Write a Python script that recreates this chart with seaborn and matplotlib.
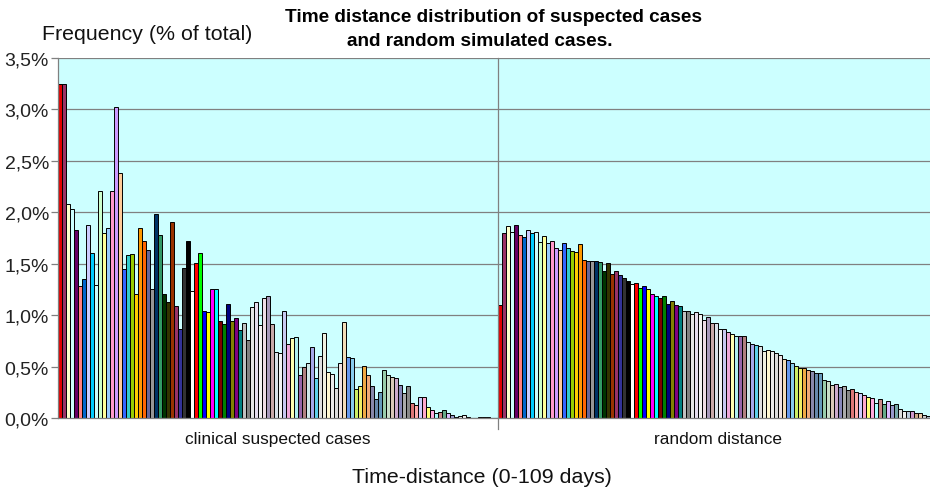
import matplotlib
matplotlib.use("Agg")
import matplotlib.pyplot as plt
import seaborn as sns
import pandas as pd

# ---- data ----
clinical = [3.25, 3.25, 2.08, 2.03, 1.83, 1.28, 1.35, 1.88, 1.60, 1.29,
            2.21, 1.80, 1.85, 2.21, 3.02, 2.38, 1.45, 1.58, 1.59, 1.21,
            1.85, 1.72, 1.63, 1.25, 1.98, 1.78, 1.21, 1.13, 1.91, 1.09,
            0.87, 1.46, 1.72, 1.23, 1.51, 1.60, 1.04, 1.03, 1.25, 1.25,
            0.94, 0.91, 1.11, 0.94, 0.97, 0.86, 0.92, 0.76, 1.08, 1.13,
            0.90, 1.17, 1.19, 0.91, 0.64, 0.63, 1.04, 0.72, 0.78, 0.79,
            0.42, 0.50, 0.53, 0.69, 0.39, 0.60, 0.83, 0.45, 0.43, 0.29,
            0.53, 0.93, 0.59, 0.58, 0.28, 0.31, 0.51, 0.42, 0.31, 0.18,
            0.25, 0.47, 0.42, 0.40, 0.39, 0.32, 0.24, 0.31, 0.15, 0.13,
            0.20, 0.20, 0.11, 0.08, 0.05, 0.06, 0.08, 0.05, 0.03, 0.01,
            0.02, 0.03, 0.01, 0.0, 0.0, 0.005, 0.01, 0.01, 0.003, 0.0]

random_dist = [1.10, 1.80, 1.87, 1.81, 1.88, 1.78, 1.76, 1.83, 1.80, 1.81,
               1.71, 1.77, 1.70, 1.72, 1.65, 1.63, 1.70, 1.65, 1.62, 1.61,
               1.69, 1.54, 1.53, 1.53, 1.525, 1.52, 1.43, 1.51, 1.40, 1.43,
               1.39, 1.36, 1.33, 1.30, 1.31, 1.26, 1.28, 1.25, 1.21, 1.19,
               1.17, 1.19, 1.11, 1.14, 1.10, 1.09, 1.04, 1.04, 1.01, 1.03,
               1.01, 0.95, 0.98, 0.92, 0.92, 0.87, 0.87, 0.84, 0.82, 0.80,
               0.80, 0.80, 0.74, 0.72, 0.71, 0.70, 0.65, 0.66, 0.65, 0.63,
               0.61, 0.57, 0.56, 0.53, 0.51, 0.49, 0.49, 0.47, 0.46, 0.44,
               0.44, 0.37, 0.36, 0.32, 0.33, 0.30, 0.31, 0.27, 0.28, 0.25,
               0.24, 0.22, 0.20, 0.19, 0.15, 0.18, 0.14, 0.17, 0.13, 0.14,
               0.09, 0.07, 0.07, 0.07, 0.05, 0.045, 0.03, 0.015, 0.01, 0.005]

group_labels = ["clinical suspected cases", "random distance"]
yticks = [0.0, 0.5, 1.0, 1.5, 2.0, 2.5, 3.0, 3.5]
ytick_labels = ["0,0%", "0,5%", "1,0%", "1,5%", "2,0%", "2,5%", "3,0%", "3,5%"]

# Excel-like "vary colors by point" palette (110 colours, reused for both groups)
bar_colors = [
    "#E00000", "#993366", "#FFFFCC", "#CCFFFF", "#660066", "#FF8080", "#0066CC", "#CCCCFF",
    "#00CCFF", "#CCFFFF", "#CCFFCC", "#FFFF99", "#99CCFF", "#FF99CC", "#CC99FF", "#FFCC99",
    "#3366FF", "#33CCCC", "#99CC00", "#FFCC00", "#FF9900", "#FF6600", "#666699", "#969696",
    "#003366", "#339966", "#003300", "#333300", "#993300", "#993366", "#333399", "#333333",
    "#000000", "#FFFFFF", "#FF0000", "#00FF00", "#0000FF", "#FFFF00", "#FF00FF", "#00FFFF",
    "#800000", "#008000", "#000080", "#808000", "#800080", "#008080", "#C0C0C0", "#808080",
    "#E6E6E6", "#E6DDEE", "#F4F4F4", "#EEDDE6", "#A899BB", "#C8A8A8", "#D8E0E8", "#F2F2F2",
    "#C8C8F0", "#F0A8D8", "#FFFFB0", "#B0F0F0", "#9966AA", "#B08080", "#D0E8E8", "#A8A8E8",
    "#60D0E8", "#E0E0E0", "#F0F0E0", "#FFF8D0", "#ECECEC", "#DCDCDC", "#F0E4E4", "#F2DDB8",
    "#6699EE", "#88CCEE", "#CCEE66", "#EEEE66", "#EEAA44", "#F0AA77", "#8888AA", "#6688AA",
    "#6699BB", "#99CCAA", "#C8DDC8", "#D8C8B8", "#CCAACC", "#8888BB", "#AAAAAA", "#888888",
    "#DD7777", "#FFAAAA", "#CCCCFF", "#FFAACC", "#FFFF77", "#FFAADD", "#AAFFFF", "#CC8888",
    "#66AA88", "#DDBBFF", "#9999CC", "#77AAAA", "#DDDDDD", "#EEEEEE", "#BBCCDD", "#CC99CC",
    "#CCAA88", "#EECCAA", "#CCCCCC", "#AABBCC", "#DDCCEE", "#CCDDEE",
]

# ---- build table ----
n = len(clinical)
ids = [f"c{i}" for i in range(n)] + [f"r{i}" for i in range(n)]
values = clinical + random_dist
df = pd.DataFrame({"bar": ids, "value": values})
palette = {bid: bar_colors[i % n] for i, bid in enumerate(ids)}

plt.rcParams["font.family"] = ["Liberation Sans", "DejaVu Sans"]

W, H = 930, 489
fig = plt.figure(figsize=(W / 100, H / 100), dpi=100)
ax_left, ax_right, ax_top, ax_bot = 58, 938, 59, 419
ax = fig.add_axes([ax_left / W, 1 - ax_bot / H, (ax_right - ax_left) / W, (ax_bot - ax_top) / H])

ax.set_facecolor("#CCFFFF")
ax.set_axisbelow(True)
ax.yaxis.grid(True, color="#808080", linewidth=0.9)

sns.barplot(data=df, x="bar", y="value", hue="bar", palette=palette,
            order=ids, hue_order=ids, legend=False, width=1.0, saturation=1,
            edgecolor="black", linewidth=0.7, errorbar=None, ax=ax)

ax.set_xlim(-0.5, 2 * n - 0.5)
ax.set_ylim(0, 3.5)
ax.set_yticks(yticks)
ax.set_yticklabels(ytick_labels, fontsize=14, color="#222222")
ax.tick_params(axis="y", length=5, width=0.9, color="#808080", pad=1.5)
ax.set_xticks([])
ax.set_xlabel("")
ax.set_ylabel("")

for s in ["top", "right"]:
    ax.spines[s].set_visible(False)
for s in ["left", "bottom"]:
    ax.spines[s].set_color("#808080")
    ax.spines[s].set_linewidth(0.9)

# divider between the two groups (with small tick below the axis)
ax.axvline(n - 0.5, ymin=-11 / 360, ymax=1, color="#808080", linewidth=0.9, clip_on=False)

# group labels
for k, lab in enumerate(group_labels):
    ax.text(k * n + (n - 1) / 2, -(440 - 419) / 360, lab, transform=ax.get_xaxis_transform(),
            ha="center", va="center", fontsize=12.4, color="#111111")

# axis titles
fig.text(42 / W, 1 - 34 / H, "Frequency (% of total)", ha="left", va="center",
         fontsize=15.4, color="#111111")
fig.text(482 / W, 1 - 478 / H, "Time-distance (0-109 days)", ha="center", va="center",
         fontsize=15.4, color="#111111")

# title
fig.text(493 / W, 1 - 18 / H, "Time distance distribution of suspected cases",
         ha="center", va="center", fontsize=13.7, fontweight="bold")
fig.text(480 / W, 1 - 42 / H, "and random simulated cases.",
         ha="center", va="center", fontsize=13.7, fontweight="bold")

fig.savefig("out.png", dpi=100, facecolor="white")
